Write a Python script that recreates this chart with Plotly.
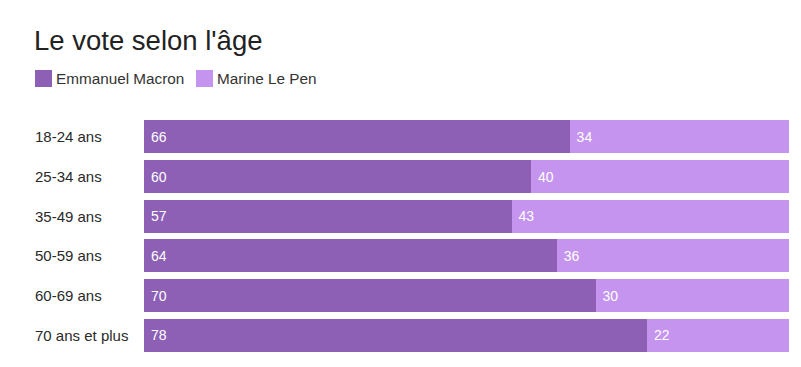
import plotly.graph_objects as go

categories = ["18-24 ans", "25-34 ans", "35-49 ans", "50-59 ans", "60-69 ans", "70 ans et plus"]
macron = [66, 60, 57, 64, 70, 78]
lepen = [34, 40, 43, 36, 30, 22]
series_names = ["Emmanuel Macron", "Marine Le Pen"]

W, H = 801, 367
L, R, T, B = 144, 12, 117, 12
pw = W - L - R
ph = H - T - B

dark = "#8d5fb5"
light = "#c594ee"
font_family = "Liberation Sans, Arial, sans-serif"


def px_x(p):
    return (p - L) / pw


def px_y(p):
    return 1 - (p - T) / ph


fig = go.Figure()
for name, vals, col in [(series_names[0], macron, dark), (series_names[1], lepen, light)]:
    fig.add_trace(go.Bar(
        y=categories, x=vals, orientation="h", name=name,
        marker=dict(color=col, line=dict(width=0)),
        text=vals, texttemplate="\u00a0%{text}", textposition="inside",
        insidetextanchor="start",
        textfont=dict(color="white", size=14, family=font_family),
        hoverinfo="x+y", showlegend=False,
    ))

annotations = []
for c in categories:
    annotations.append(dict(
        x=px_x(35), xref="paper", y=c, yref="y",
        text=c, showarrow=False, xanchor="left", yanchor="middle",
        xshift=-2,
        font=dict(size=15, color="#2a2a2a", family=font_family),
    ))

# manual legend (swatch + label)
shapes = []
legend_items = [(series_names[0], dark, 35), (series_names[1], light, 196)]
for name, col, x0 in legend_items:
    shapes.append(dict(type="rect", xref="paper", yref="paper",
                       x0=px_x(x0), x1=px_x(x0 + 17), y0=px_y(87), y1=px_y(70),
                       fillcolor=col, line=dict(width=0)))
    annotations.append(dict(
        x=px_x(x0 + 21), xref="paper", y=px_y(78.5), yref="paper",
        text=name, showarrow=False, xanchor="left", yanchor="middle",
        xshift=-2,
        font=dict(size=15.3, color="#333333", family=font_family),
    ))

fig.update_layout(
    width=W, height=H,
    margin=dict(l=L, r=R, t=T, b=B),
    barmode="stack", bargap=0.17,
    plot_bgcolor="white", paper_bgcolor="white",
    title=dict(text="Le vote selon l'âge", x=34 / W, xref="container", xanchor="left",
               y=1 - 40 / H, yref="container", yanchor="middle",
               font=dict(size=27.5, color="#222222", family=font_family)),
    showlegend=False,
    xaxis=dict(range=[0, 100], visible=False, fixedrange=True),
    yaxis=dict(autorange="reversed", showticklabels=False, showgrid=False,
               zeroline=False, fixedrange=True),
    annotations=annotations,
    shapes=shapes,
)

fig.write_html("out.html", config={"displayModeBar": False},
               post_script="document.body.style.margin='0';")
